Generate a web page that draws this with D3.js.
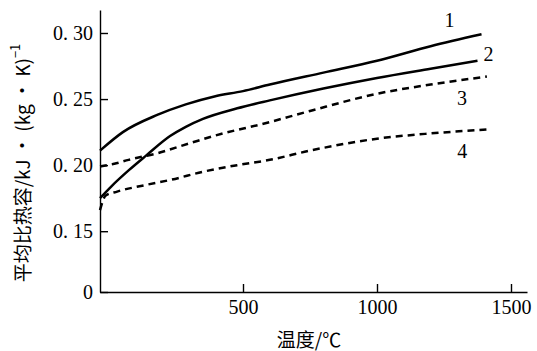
<!DOCTYPE html>
<html>
<head>
<meta charset="utf-8">
<script src="https://cdn.jsdelivr.net/npm/d3@7"></script>
<style>
  body { margin: 0; background: #fff; }
  svg { display: block; }
  .tick text { font-family: "Liberation Serif", "DejaVu Serif", serif; font-size: 20px; fill: #000; }
</style>
</head>
<body>
<svg id="chart" width="537" height="351"></svg>
<script>
//#region DATA ////////////////////////////////////////////////////////////////

// temperature (°C) and mean specific heat (kJ/(kg·K))
const temp1 = [0, 80, 200, 300, 400, 500, 600, 800, 1000, 1200, 1390];
const heat1 = [0.211, 0.225, 0.238, 0.246, 0.252, 0.256, 0.261, 0.270, 0.279, 0.290, 0.299];

const temp2 = [0, 40, 100, 160, 245, 300, 360, 480, 600, 800, 1000, 1200, 1375];
const heat2 = [0.175, 0.184, 0.196, 0.207, 0.222, 0.229, 0.235, 0.243, 0.249, 0.258, 0.266, 0.273, 0.279];

const temp3 = [0, 50, 100, 200, 320, 430, 570, 750, 1000, 1200, 1410];
const heat3 = [0.199, 0.201, 0.204, 0.209, 0.217, 0.224, 0.231, 0.241, 0.254, 0.261, 0.267];

const temp4 = [0, 20, 60, 160, 250, 360, 480, 600, 750, 1000, 1200, 1415];
const heat4 = [0.166, 0.177, 0.180, 0.185, 0.189, 0.195, 0.200, 0.204, 0.211, 0.220, 0.224, 0.227];

const curveNames = ["1", "2", "3", "4"];

const xTicks = [500, 1000, 1500];
const yTicks = [0.15, 0.20, 0.25, 0.30];
const Y_BREAK = 0.104;   // the bottom of the broken axis, labelled "0"

const xTitle = "温度/℃";
const yTitle = "平均比热容/kJ · (kg · K)";
const yTitleSup = "−1";

//#endregion

//#region LAYOUT ///////////////////////////////////////////////////////////////

const AXIS_LEFT = 100, AXIS_RIGHT = 527, AXIS_BOTTOM = 292, AXIS_TOP = 10;
const TICK_LEN = 8;
const SOLID_WIDTH = 2.5, DASH = "7,5";

// the printed x axis is not quite linear, so use a polylinear scale
const x = d3.scaleLinear()
    .domain([0, 500, 1500, 1560])
    .range([AXIS_LEFT, 243, 511, AXIS_RIGHT]);

const y = d3.scaleLinear()
    .domain([Y_BREAK, 0.3174])
    .range([AXIS_BOTTOM, AXIS_TOP]);

// label offsets from the end of each curve
const LABEL_OFFSETS = [[-32, -14], [11, -7], [-25, 21], [-26, 22]];
const DASHED = [false, false, true, true];

//#endregion

const svg = d3.select("#chart");

// axes
svg.append("g")
    .attr("transform", "translate(0," + AXIS_BOTTOM + ")")
    .call(d3.axisBottom(x).tickValues(xTicks).tickFormat(d3.format("d"))
              .tickSize(-TICK_LEN).tickSizeOuter(0).tickPadding(8))
    .call(g => g.selectAll("line,path").attr("stroke", "#000").attr("stroke-width", 1.4));

svg.append("g")
    .attr("transform", "translate(" + AXIS_LEFT + ",0)")
    .call(d3.axisLeft(y).tickValues([Y_BREAK].concat(yTicks))
              .tickFormat(d => d === Y_BREAK ? "0" : "0. " + Math.round(d * 100))
              .tickSize(-TICK_LEN).tickSizeOuter(0).tickPadding(7))
    .call(g => g.selectAll("line,path").attr("stroke", "#000").attr("stroke-width", 1.4));

// curves
const series = [[temp1, heat1], [temp2, heat2], [temp3, heat3], [temp4, heat4]];
const line = d3.line().x(d => x(d[0])).y(d => y(d[1])).curve(d3.curveMonotoneX);

series.forEach(([t, h], i) =>
{
  let pts = t.map((d, j) => [d, h[j]]);
  svg.append("path")
      .attr("d", line(pts))
      .attr("fill", "none")
      .attr("stroke", "#000")
      .attr("stroke-width", SOLID_WIDTH)
      .attr("stroke-dasharray", DASHED[i] ? DASH : null);

  let end = pts[pts.length - 1];
  svg.append("text")
      .attr("x", x(end[0]) + LABEL_OFFSETS[i][0])
      .attr("y", y(end[1]) + LABEL_OFFSETS[i][1])
      .attr("text-anchor", "middle")
      .attr("dominant-baseline", "central")
      .style("font-family", "'Liberation Serif', serif")
      .style("font-size", "20px")
      .text(curveNames[i]);
});

// axis titles
svg.append("text")
    .attr("x", 309).attr("y", 338)
    .attr("text-anchor", "middle")
    .attr("dominant-baseline", "central")
    .style("font-family", "'Noto Sans CJK SC', sans-serif")
    .style("font-size", "19px")
    .text(xTitle);

let yt = svg.append("text")
    .attr("transform", "translate(21,163) rotate(-90)")
    .attr("text-anchor", "middle")
    .attr("dominant-baseline", "central")
    .style("font-family", "'Noto Sans CJK SC', sans-serif")
    .style("font-size", "19px");
yt.append("tspan").text(yTitle);
yt.append("tspan").attr("dy", -7).style("font-size", "13px").text(yTitleSup);
</script>
</body>
</html>
